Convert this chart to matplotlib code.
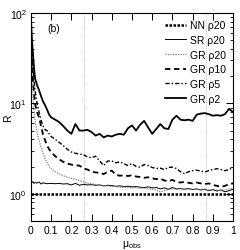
import numpy as np
import matplotlib
matplotlib.use('Agg')
import matplotlib.pyplot as plt
from matplotlib.ticker import LogLocator, FixedLocator, NullFormatter

plt.rcParams['font.family'] = ['Liberation Sans Narrow', 'Liberation Sans', 'DejaVu Sans']
plt.rcParams['mathtext.fontset'] = 'custom'
plt.rcParams['mathtext.rm'] = 'Liberation Sans'
plt.rcParams['mathtext.it'] = 'Liberation Sans'

# ── Data ──
mu = [0, 0.005, 0.01, 0.015, 0.02, 0.03, 0.04, 0.05, 0.06, 0.07, 0.08, 0.09,
      0.10, 0.12, 0.14, 0.16, 0.18, 0.20, 0.22, 0.24, 0.26, 0.28, 0.30, 0.32,
      0.34, 0.36, 0.38, 0.40, 0.42, 0.44, 0.46, 0.48, 0.50, 0.52, 0.54, 0.56,
      0.58, 0.60, 0.62, 0.64, 0.66, 0.68, 0.70, 0.72, 0.74, 0.76, 0.78, 0.80,
      0.82, 0.84, 0.86, 0.88, 0.90, 0.92, 0.94, 0.96, 0.98, 1.00]

nn_mu = [0.0, 1.0]
nn_r20 = [1.0, 1.0]

sr_r20 = [1.35, 1.33, 1.36, 1.30, 1.33, 1.31, 1.35, 1.28, 1.32, 1.30, 1.29, 1.30,
          1.30, 1.29, 1.30, 1.28, 1.29, 1.25, 1.30, 1.24, 1.27, 1.25, 1.26, 1.24,
          1.25, 1.22, 1.24, 1.23, 1.21, 1.22, 1.20, 1.21, 1.19, 1.20, 1.18, 1.17,
          1.19, 1.16, 1.17, 1.13, 1.16, 1.12, 1.17, 1.13, 1.14, 1.12, 1.14, 1.11,
          1.13, 1.10, 1.12, 1.08, 1.11, 1.07, 1.10, 1.05, 1.08, 1.12]

gr_r20 = [40, 20, 12, 8.5, 6.5, 4.8, 3.9, 3.3, 2.8, 2.45, 2.2, 2.0,
          1.9, 1.75, 1.66, 1.58, 1.53, 1.48, 1.44, 1.40, 1.35, 1.30, 1.29, 1.26,
          1.24, 1.23, 1.22, 1.20, 1.20, 1.18, 1.18, 1.17, 1.16, 1.17, 1.15, 1.15,
          1.13, 1.12, 1.10, 1.05, 1.08, 1.12, 1.13, 1.12, 1.14, 1.12, 1.13, 1.12,
          1.12, 1.10, 1.12, 1.10, 1.10, 1.10, 1.08, 1.10, 1.12, 1.15]

gr_r10 = [50, 30, 18, 13, 10, 8, 7, 5.6, 4.5, 3.9, 3.4, 3.1,
          2.9, 2.6, 2.4, 2.25, 2.15, 2.1, 2.05, 2.05, 1.9, 1.85, 1.75, 1.72,
          1.70, 1.65, 1.75, 1.80, 1.62, 1.58, 1.60, 1.57, 1.60, 1.55, 1.53, 1.50,
          1.52, 1.48, 1.45, 1.47, 1.40, 1.38, 1.42, 1.35, 1.33, 1.35, 1.32, 1.30,
          1.33, 1.30, 1.28, 1.30, 1.25, 1.22, 1.19, 1.22, 1.28, 1.30]

gr_r5 = [60, 40, 25, 18, 14, 10, 8.0, 6.5, 5.6, 5.1, 5.0, 4.6,
         4.3, 4.0, 3.7, 3.4, 3.1, 2.9, 2.8, 2.75, 2.7, 2.55, 2.5, 2.6,
         2.3, 2.05, 2.3, 2.3, 2.2, 2.25, 2.15, 2.05, 2.15, 2.0, 1.97, 2.1,
         2.05, 1.95, 1.9, 1.92, 1.85, 1.95, 1.97, 1.9, 1.75, 1.66, 1.75, 1.8,
         1.82, 1.78, 1.74, 1.8, 1.85, 1.89, 1.85, 1.8, 1.85, 1.95]

gr_r2 = [85, 50, 35, 25, 19, 16, 14, 12, 10.5, 9.5, 8.5, 7.5,
         7.0, 6.6, 6.2, 5.6, 5.0, 4.6, 5.9, 5.0, 5.0, 5.1, 4.8, 4.4,
         4.6, 4.2, 4.4, 4.3, 4.5, 4.6, 4.5, 5.3, 5.7, 5.0, 5.8, 6.4,
         5.4, 4.6, 5.2, 5.9, 5.3, 5.2, 6.6, 7.3, 6.6, 6.5, 6.6, 6.4,
         7.5, 7.7, 7.8, 7.6, 7.3, 7.4, 7.3, 7.6, 8.7, 8.0]

x_ticks = [0, 0.1, 0.2, 0.3, 0.4, 0.5, 0.6, 0.7, 0.8, 0.9, 1.0]
x_ticklabels = ['0', '0.1', '0.2', '0.3', '0.4', '0.5', '0.6', '0.7', '0.8', '0.9', '1']
vlines_mu = [0.26, 0.865]

# ── Figure ──
fig = plt.figure(figsize=(2.40, 2.51), dpi=100)
ax = fig.add_axes([0.129, 0.116, 0.842, 0.828])

for xv in vlines_mu:
    ax.axvline(xv, color='#aaaaaa', linestyle=(0, (1, 1.5)), linewidth=0.6, zorder=1)

ax.plot(nn_mu, nn_r20, color='black', linestyle=(0, (1, 0.6)), linewidth=1.8,
        label='NN ρ20')
ax.plot(mu, sr_r20, color='black', linestyle='-', linewidth=0.7, label='SR ρ20')
ax.plot(mu, gr_r20, color='#808080', linestyle=(0, (1, 1)), linewidth=0.9,
        label='GR ρ20')
ax.plot(mu, gr_r10, color='black', linestyle=(0, (3, 2)), linewidth=1.3,
        label='GR ρ10')
ax.plot(mu, gr_r5, color='black', linestyle=(0, (3, 1.5, 1, 1.5)), linewidth=1.0,
        label='GR ρ5')
ax.plot(mu, gr_r2, color='black', linestyle='-', linewidth=1.3, label='GR ρ2')

ax.set_yscale('log')
ax.set_xlim(0, 1)
ax.set_ylim(0.5, 100)
ax.xaxis.set_major_locator(FixedLocator(x_ticks))
ax.set_xticklabels(x_ticklabels)
ax.yaxis.set_major_locator(LogLocator(base=10))
ax.yaxis.set_minor_locator(LogLocator(base=10, subs=np.arange(2, 10)))
ax.yaxis.set_minor_formatter(NullFormatter())
ax.tick_params(which='both', direction='in', top=True, right=True,
               labelsize=7.5, pad=3)
ax.tick_params(which='major', length=5, width=0.7)
ax.tick_params(which='minor', length=2.5, width=0.6)
for sp in ax.spines.values():
    sp.set_linewidth(0.8)

ax.set_xlabel(r'μ$_{\rm obs}$', fontsize=7.5, labelpad=2)
ax.set_ylabel('R', fontsize=7.5)
ax.yaxis.set_label_coords(-0.09, 0.5)
ax.text(0.08, 0.93, '(b)', transform=ax.transAxes, fontsize=7.5, va='center')

ax.legend(loc='upper right', frameon=False, fontsize=7.5, handlelength=2.0,
          handletextpad=0.4, labelspacing=0.45, borderaxespad=0.3)

fig.savefig('out.png', dpi=100)
